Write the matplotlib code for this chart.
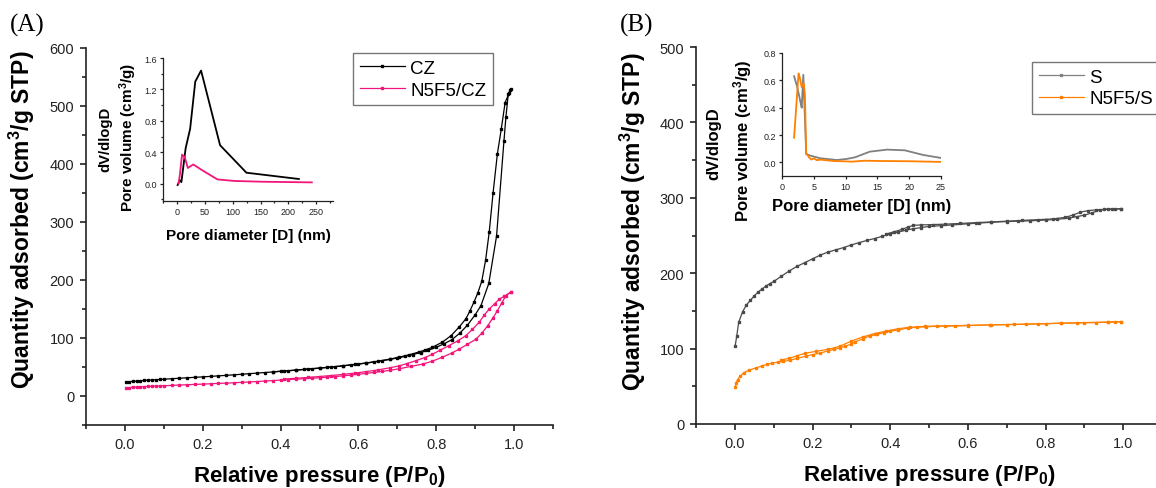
import matplotlib
matplotlib.use("Agg")
import matplotlib.pyplot as plt
from matplotlib.ticker import MultipleLocator

plt.rcParams['font.family'] = ['Liberation Sans', 'DejaVu Sans']
plt.rcParams['mathtext.fontset'] = 'custom'
plt.rcParams['mathtext.rm'] = 'Liberation Sans'
plt.rcParams['mathtext.bf'] = 'Liberation Sans:bold'
plt.rcParams['mathtext.it'] = 'Liberation Sans:italic'

# ---- (A) isotherms ----
cz_ads_p = [0.003, 0.01, 0.02, 0.03, 0.04, 0.05, 0.06, 0.07, 0.08, 0.09, 0.10, 0.12, 0.14, 0.16, 0.18,
            0.20, 0.22, 0.24, 0.26, 0.28, 0.30, 0.32, 0.34, 0.36, 0.38, 0.40, 0.42, 0.44, 0.46, 0.48,
            0.50, 0.52, 0.54, 0.56, 0.58, 0.60, 0.62, 0.64, 0.66, 0.68, 0.70, 0.72, 0.74, 0.76, 0.78,
            0.80, 0.82, 0.84, 0.86, 0.88, 0.90, 0.915, 0.935, 0.955, 0.974, 0.979, 0.985, 0.99]
cz_ads_q = [23.5, 24.5, 25.2, 25.8, 26.3, 26.8, 27.3, 27.7, 28.1, 28.5, 28.9, 29.8, 30.6, 31.4, 32.2,
            33.0, 33.8, 34.7, 35.6, 36.5, 37.5, 38.5, 39.5, 40.5, 41.5, 42.5, 43.5, 44.6, 45.7, 46.8,
            48.0, 49.2, 50.5, 51.9, 53.4, 55.0, 56.7, 58.6, 60.7, 63.0, 65.5, 68.3, 71.5, 75, 79,
            84, 90, 97, 108, 122, 140, 156, 194, 276, 440, 481, 520, 528]
cz_des_p = [0.992, 0.987, 0.977, 0.967, 0.957, 0.946, 0.936, 0.927, 0.917, 0.907, 0.897, 0.886, 0.876,
            0.859, 0.838, 0.816, 0.79, 0.77, 0.756, 0.73, 0.705, 0.68, 0.65, 0.62, 0.59, 0.56, 0.53,
            0.50, 0.47, 0.44, 0.41, 0.38]
cz_des_q = [529, 522, 506, 460, 417, 350, 282, 235, 198, 178, 162, 146, 133,
            119, 104, 93, 84, 79, 76, 71, 67, 63.5, 60, 57, 54.5, 52.2, 50,
            48.3, 46.5, 44.8, 43.2, 41.7]

n5cz_ads_p = [0.003, 0.01, 0.02, 0.03, 0.04, 0.05, 0.06, 0.07, 0.08, 0.09, 0.10, 0.12, 0.14, 0.16, 0.18,
              0.20, 0.22, 0.24, 0.26, 0.28, 0.30, 0.32, 0.34, 0.36, 0.38, 0.40, 0.42, 0.44, 0.46, 0.48,
              0.50, 0.52, 0.54, 0.56, 0.58, 0.60, 0.62, 0.64, 0.66, 0.68, 0.705, 0.735, 0.765, 0.79,
              0.816, 0.84, 0.859, 0.88, 0.902, 0.918, 0.932, 0.945, 0.957, 0.968, 0.979, 0.991]
n5cz_ads_q = [13.8, 14.5, 15.0, 15.4, 15.8, 16.2, 16.5, 16.8, 17.1, 17.4, 17.7, 18.3, 18.9, 19.4, 20.0,
              20.5, 21.1, 21.7, 22.2, 22.8, 23.5, 24.2, 25.0, 25.8, 26.6, 27.4, 28.2, 29.0, 29.8, 30.6,
              31.5, 32.5, 33.5, 34.7, 36.0, 37.5, 39.0, 40.6, 42.3, 44.2, 47, 51, 55, 60,
              67, 74, 81, 89, 98, 109, 121, 134, 147, 160, 173, 179]
n5cz_des_p = [0.991, 0.975, 0.962, 0.95, 0.936, 0.923, 0.91, 0.893, 0.876, 0.855, 0.833, 0.81, 0.79,
              0.77, 0.748, 0.725, 0.705, 0.68, 0.65, 0.62, 0.59, 0.56, 0.53, 0.50, 0.47, 0.44, 0.41]
n5cz_des_q = [179, 172, 167, 159, 150, 139, 127, 115, 104, 95, 87, 79, 72,
              66, 61, 56, 52, 48.5, 45, 42, 39.5, 37.2, 35.3, 33.6, 32.0, 30.6, 29.3]

# (A) inset: pore size distribution
cz_psd_d = [1.2, 5, 8, 15.6, 23.7, 32.9, 43.3, 77.4, 124.7, 218.8]
cz_psd_v = [-0.017, 0.046, 0.02, 0.45, 0.70, 1.30, 1.44, 0.49, 0.14, 0.06]
n5cz_psd_d = [2.9, 5.2, 9.2, 13.9, 19.6, 23.7, 29.4, 45.6, 72.7, 103, 155, 242]
n5cz_psd_v = [0.0, 0.11, 0.37, 0.34, 0.20, 0.22, 0.245, 0.17, 0.055, 0.035, 0.025, 0.017]

# ---- (B) isotherms ----
s_ads_p = [0.001, 0.005, 0.01, 0.02, 0.03, 0.04, 0.05, 0.06, 0.07, 0.08, 0.09, 0.10, 0.12, 0.14, 0.16,
           0.18, 0.20, 0.22, 0.24, 0.26, 0.28, 0.30, 0.32, 0.34, 0.36, 0.38, 0.40, 0.42, 0.44, 0.46,
           0.48, 0.50, 0.53, 0.56, 0.60, 0.63, 0.66, 0.70, 0.73, 0.76, 0.80, 0.83, 0.86, 0.88, 0.90,
           0.92, 0.94, 0.96, 0.98, 0.995]
s_ads_q = [104, 117, 135, 149, 158, 164, 170, 175, 179, 183, 186, 189, 196, 203, 209,
           214, 219, 224, 228, 231, 234, 237.5, 240.5, 243.5, 246, 249, 252, 254.5, 257, 259,
           260.5, 262, 263, 264, 265.5, 266.5, 267.5, 268.5, 269, 269.5, 270.5, 271.5, 273, 275, 277,
           280, 284, 285, 285, 285.5]
s_des_p = [0.995, 0.97, 0.95, 0.93, 0.91, 0.89, 0.87, 0.85, 0.82, 0.78, 0.74, 0.70, 0.66, 0.62, 0.58,
           0.54, 0.51, 0.48, 0.46, 0.445, 0.43, 0.41, 0.39]
s_des_q = [285.5, 285, 284.5, 284, 283, 281, 277, 274, 272, 271, 270, 269, 268, 267, 266,
           265, 264.5, 264, 263.5, 261, 258, 255, 252]

n5s_ads_p = [0.001, 0.004, 0.007, 0.014, 0.023, 0.037, 0.055, 0.07, 0.082, 0.095, 0.11, 0.125, 0.142,
             0.16, 0.183, 0.2, 0.219, 0.24, 0.256, 0.27, 0.283, 0.3, 0.31, 0.33, 0.347, 0.365, 0.384,
             0.4, 0.42, 0.447, 0.47, 0.493, 0.52, 0.566, 0.6, 0.658, 0.7, 0.749, 0.8, 0.84, 0.88,
             0.93, 0.96, 0.98, 0.995]
n5s_ads_q = [49, 55, 59, 63.5, 68, 71.5, 74.5, 77, 79, 80.5, 82, 83, 84.5,
             87, 90, 92, 94, 97, 99, 101, 103, 106, 109, 113, 116.7, 119, 121,
             123, 124.7, 127.4, 128.3, 129, 129.6, 130, 130.5, 131.4, 131.8, 132.3, 133, 133.6, 134,
             134.5, 135, 135.4, 135.8]
n5s_des_p = [0.995, 0.96, 0.9, 0.84, 0.78, 0.72, 0.66, 0.6, 0.54, 0.49, 0.45, 0.42, 0.39, 0.36, 0.33,
             0.3, 0.27, 0.24, 0.21, 0.18, 0.16, 0.14, 0.12]
n5s_des_q = [135.8, 135.2, 134.5, 133.7, 132.9, 132.1, 131.5, 130.8, 130.2, 129.5, 128.3, 126.3, 123.3,
             120, 115.5, 110, 103, 99, 96.5, 93.7, 90.5, 87, 85]

# (B) inset: pore size distribution
s_psd_d = [1.9, 2.4, 3.0, 3.1, 3.35, 3.7, 3.8, 4.4, 6.0, 8.6, 10.2, 11.5, 13.8, 16.5, 19.3, 22.2, 25]
s_psd_v = [0.63, 0.55, 0.42, 0.40, 0.64, 0.2, 0.06, 0.05, 0.03, 0.017, 0.025, 0.037, 0.078, 0.093,
           0.088, 0.054, 0.032]
n5s_psd_d = [1.9, 2.6, 2.8, 3.1, 3.4, 3.6, 3.8, 4.2, 4.6, 5.0, 5.5, 6, 7, 8, 10, 11, 13, 15, 20, 25]
n5s_psd_v = [0.18, 0.65, 0.62, 0.55, 0.58, 0.5, 0.07, 0.04, 0.02, 0.03, 0.015, 0.02, 0.015, 0.01,
             0.007, 0.005, 0.012, 0.01, 0.008, 0.003]

pink = '#F2157A'
orange = '#FF8000'
gray_main = '#4a4a4a'
gray_inset = '#808080'

W, H = 1156, 489
fig = plt.figure(figsize=(W / 100, H / 100), dpi=100)


def box(l, r, t, b):
    return [l / W, 1 - b / H, (r - l) / W, (b - t) / H]


def style(ax, size, maj, mino, lw=1.2):
    ax.spines['top'].set_visible(False)
    ax.spines['right'].set_visible(False)
    for s in ('left', 'bottom'):
        ax.spines[s].set_linewidth(lw)
        ax.spines[s].set_color('#222222')
    ax.tick_params(which='major', direction='out', length=maj, width=lw, labelsize=size,
                   colors='#222222', pad=4)
    ax.tick_params(which='minor', direction='out', length=mino, width=lw, colors='#222222')
    ax.set_facecolor('none')


def vtext(ax, x, y, s, size):
    ax.text(x, y, s, transform=ax.transAxes, rotation=90, ha='center', va='center',
            fontsize=size, fontweight='bold')


lab_font = dict(fontsize=16, fontweight='bold')
mk = dict(marker='s', markersize=1.7, linewidth=0.9)

# ---------- panel A ----------
axA = fig.add_axes(box(86, 553, 49, 426))
axA.plot(cz_ads_p, cz_ads_q, color='black', label='CZ', **mk)
axA.plot(cz_des_p, cz_des_q, color='black', **mk)
axA.plot(n5cz_ads_p, n5cz_ads_q, color=pink, label='N5F5/CZ', **mk)
axA.plot(n5cz_des_p, n5cz_des_q, color=pink, **mk)
axA.set_xlim(-0.1, 1.1)
axA.set_ylim(-50, 600)
axA.xaxis.set_minor_locator(MultipleLocator(0.1))
axA.yaxis.set_major_locator(MultipleLocator(100))
axA.yaxis.set_minor_locator(MultipleLocator(50))
style(axA, 10.5, 4.5, 2.8)
axA.set_xticks([0.0, 0.2, 0.4, 0.6, 0.8, 1.0])
axA.set_xticklabels(['0.0', '0.2', '0.4', '0.6', '0.8', '1.0'])
axA.set_xlabel(r'Relative pressure (P/P$_\mathbf{0}$)', **lab_font)
axA.set_ylabel(r'Quantity adsorbed (cm$^\mathbf{3}$/g STP)', fontsize=16.5, fontweight='bold')
axA.xaxis.set_label_coords(0.5, -0.1)
axA.yaxis.set_label_coords(-0.104, 0.546)
legA = axA.legend(loc='upper left', bbox_to_anchor=(353 / W, 1 - 54 / H), bbox_transform=fig.transFigure,
                  fontsize=13.5, frameon=True, fancybox=False, numpoints=1, handlelength=2.4,
                  handletextpad=0.3, labelspacing=0.25, borderpad=0.35, borderaxespad=0)
legA.get_frame().set_edgecolor('#555555')
legA.get_frame().set_linewidth(1.0)

insA = fig.add_axes(box(163, 333, 59, 202))
insA.plot(cz_psd_d, cz_psd_v, color='black', linewidth=1.3)
insA.plot(n5cz_psd_d, n5cz_psd_v, color=pink, linewidth=1.3)
insA.set_xlim(-25, 280)
insA.set_ylim(-0.22, 1.6)
insA.xaxis.set_major_locator(MultipleLocator(50))
insA.xaxis.set_minor_locator(MultipleLocator(25))
insA.yaxis.set_minor_locator(MultipleLocator(0.2))
insA.set_yticks([0.0, 0.4, 0.8, 1.2, 1.6])
insA.set_yticklabels(['0.0', '0.4', '0.8', '1.2', '1.6'])
style(insA, 6.5, 2.5, 1.5, lw=0.9)
insA.tick_params(pad=2)
insA.set_xlabel('Pore diameter [D] (nm)', fontsize=11, fontweight='bold')
insA.xaxis.set_label_coords(0.5, -0.19)
vtext(insA, -0.205, 0.45, r'Pore volume (cm$^\mathbf{3}$/g)', 11)
vtext(insA, -0.338, 0.437, 'dV/dlogD', 10.7)

# ---------- panel B ----------
axB = fig.add_axes(box(696, 1162, 48, 425))
axB.plot(s_ads_p, s_ads_q, color=gray_main, label='S', **mk)
axB.plot(s_des_p, s_des_q, color=gray_main, **mk)
axB.plot(n5s_ads_p, n5s_ads_q, color=orange, label='N5F5/S', **mk)
axB.plot(n5s_des_p, n5s_des_q, color=orange, **mk)
axB.set_xlim(-0.1, 1.1)
axB.set_ylim(0, 500)
axB.xaxis.set_minor_locator(MultipleLocator(0.1))
axB.yaxis.set_major_locator(MultipleLocator(100))
axB.yaxis.set_minor_locator(MultipleLocator(50))
style(axB, 10.5, 4.5, 2.8)
axB.set_xticks([0.0, 0.2, 0.4, 0.6, 0.8, 1.0])
axB.set_xticklabels(['0.0', '0.2', '0.4', '0.6', '0.8', '1.0'])
axB.set_xlabel(r'Relative pressure (P/P$_\mathbf{0}$)', **lab_font)
axB.set_ylabel(r'Quantity adsorbed (cm$^\mathbf{3}$/g STP)', fontsize=16.5, fontweight='bold')
axB.xaxis.set_label_coords(0.5, -0.1)
axB.yaxis.set_label_coords(-0.103, 0.538)
legB = axB.legend(loc='upper left', bbox_to_anchor=(1032 / W, 1 - 63 / H), bbox_transform=fig.transFigure,
                  fontsize=13.5, frameon=True, fancybox=False, numpoints=1, handlelength=2.4,
                  handletextpad=0.3, labelspacing=0.25, borderpad=0.35, borderaxespad=0)
legB.get_frame().set_edgecolor('#555555')
legB.get_frame().set_linewidth(1.0)
for h in legB.get_lines():
    if h.get_color() == gray_main:
        h.set_color(gray_inset)

insB = fig.add_axes(box(782, 941, 54, 177))
insB.plot(s_psd_d, s_psd_v, color=gray_inset, linewidth=1.3)
insB.plot(n5s_psd_d, n5s_psd_v, color=orange, linewidth=1.3)
insB.set_xlim(0, 25)
insB.set_ylim(-0.1, 0.8)
insB.xaxis.set_major_locator(MultipleLocator(5))
insB.set_yticks([0.0, 0.2, 0.4, 0.6, 0.8])
insB.set_yticklabels(['0.0', '0.2', '0.4', '0.6', '0.8'])
style(insB, 6.5, 2.5, 1.5, lw=0.9)
insB.tick_params(pad=2)
insB.set_xlabel('Pore diameter [D] (nm)', fontsize=12, fontweight='bold')
insB.xaxis.set_label_coords(0.5, -0.18)
vtext(insB, -0.25, 0.297, r'Pore volume (cm$^\mathbf{3}$/g)', 12)
vtext(insB, -0.428, 0.272, 'dV/dlogD', 12)

fig.text(10 / W, 1 - 25 / H, '(A)', family='Liberation Serif', fontsize=18, va='center', ha='left')
fig.text(620 / W, 1 - 25 / H, '(B)', family='Liberation Serif', fontsize=18, va='center', ha='left')

fig.savefig('out.png', dpi=100)
